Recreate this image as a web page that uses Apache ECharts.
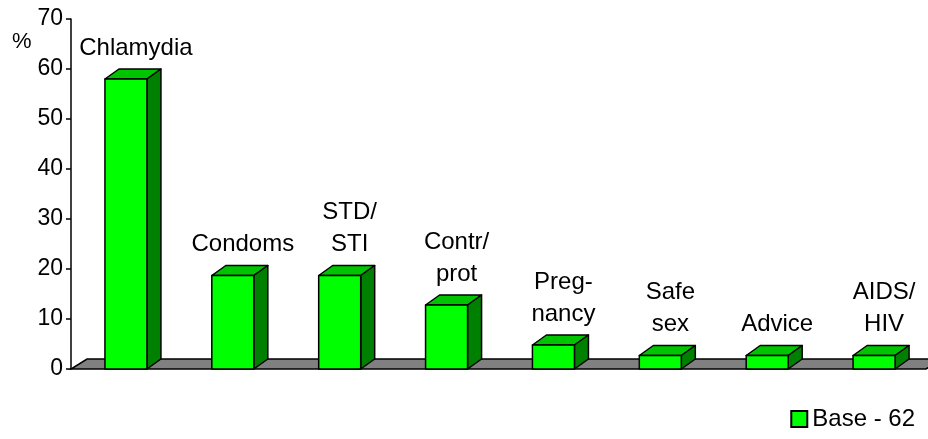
<!DOCTYPE html>
<html>
<head>
<meta charset="utf-8">
<script src="https://cdn.jsdelivr.net/npm/echarts@6/dist/echarts.min.js"></script>
<style>
  html, body { margin: 0; padding: 0; background: #fff; }
  #chart { width: 928px; height: 439px; }
</style>
</head>
<body>
<div id="chart"></div>
<script>
// categories and values (percent)
var categories = ['Chlamydia', 'Condoms', 'STD/\nSTI', 'Contr/\nprot', 'Preg-\nnancy', 'Safe\nsex', 'Advice', 'AIDS/\nHIV'];
var values = [58, 18.7, 18.7, 12.8, 4.8, 2.7, 2.7, 2.7];
var yTicks = [0, 10, 20, 30, 40, 50, 60, 70];
var seriesName = 'Base - 62';

var FONT = '"Liberation Sans", Arial, sans-serif';
var DX = 14, DY = 10; // 3d depth of the bars
var FRONT = '#00ff00', TOP = '#00c400', SIDE = '#008000';

// tiny extend helper, no jquery here
var $ = {extend: function (a, b) { for (var k in b) a[k] = b[k]; return a; }};

var chart = echarts.init(document.getElementById('chart'));

function renderBar(params, api) {
    var idx = api.value(0);
    var top = api.coord([idx, api.value(1)]);
    var base = api.coord([idx, 0]);
    var band = api.size([1, 0])[0];
    var w = Math.round(band * 0.39);
    var l = top[0] - w / 2 + 1.5;
    var r = l + w;
    var t = top[1], b = base[1];
    var line = {stroke: '#000', lineWidth: 1.5, lineJoin: 'round'};
    return {
        type: 'group',
        children: [
            {type: 'polygon', shape: {points: [[l, t], [l + DX, t - DY], [r + DX, t - DY], [r, t]]},
                style: $.extend({fill: TOP}, line)},
            {type: 'polygon', shape: {points: [[r, t], [r + DX, t - DY], [r + DX, b - DY], [r, b]]},
                style: $.extend({fill: SIDE}, line)},
            {type: 'rect', shape: {x: l, y: t, width: w, height: b - t},
                style: $.extend({fill: FRONT}, line)},
            // label above the bar
            {type: 'text', x: l + w / 2 + 10, y: t - 15,
                style: {text: categories[idx], fill: '#000', font: '24px ' + FONT,
                    align: 'center', verticalAlign: 'bottom', lineHeight: 32}}
        ]
    };
}

function renderFloor(params, api) {
    var cs = params.coordSys;
    var y0 = api.coord([0, 0])[1];
    var x0 = cs.x, x1 = cs.x + cs.width;
    return {
        type: 'polygon',
        shape: {points: [[x0, y0], [x1, y0], [x1 + 16, y0 - DY], [x0 + 16, y0 - DY]]},
        style: {fill: '#808080', stroke: '#000', lineWidth: 1.5}
    };
}

var option = {
    animation: false,
    grid: {left: 71, top: 19, width: 855, height: 350},
    xAxis: {
        type: 'category',
        data: categories,
        show: false
    },
    yAxis: {
        type: 'value',
        min: yTicks[0],
        max: yTicks[yTicks.length - 1],
        interval: 10,
        axisLine: {show: true, lineStyle: {color: '#000', width: 1.5}},
        axisTick: {show: true, length: 5, lineStyle: {color: '#000', width: 1.5}},
        axisLabel: {color: '#000', fontSize: 23, fontFamily: FONT, margin: 8},
        splitLine: {show: false}
    },
    legend: {
        data: [{name: seriesName, icon: 'rect'}],
        right: 8,
        bottom: 3,
        itemWidth: 16,
        itemHeight: 16,
        itemGap: 6,
        textStyle: {color: '#000', fontSize: 24, fontFamily: FONT},
        selectedMode: false
    },
    graphic: [{
        type: 'text', left: 12, top: 31,
        style: {text: '%', fill: '#000', font: '22px ' + FONT}
    }],
    series: [
        {
            type: 'custom',
            name: 'floor',
            renderItem: renderFloor,
            data: [[0]],
            silent: true,
            z: 1
        },
        {
            type: 'custom',
            name: seriesName,
            renderItem: renderBar,
            itemStyle: {color: FRONT, borderColor: '#000', borderWidth: 1.5},
            data: values.map(function (v, i) { return [i, v]; }),
            z: 2
        }
    ]
};

chart.setOption(option);
</script>
</body>
</html>
